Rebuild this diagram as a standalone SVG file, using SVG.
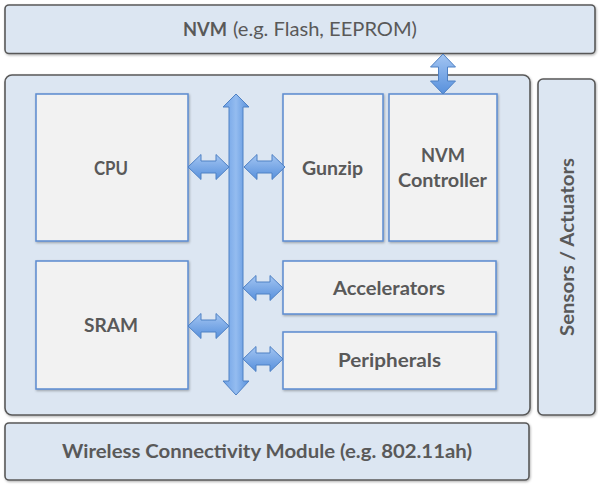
<svg xmlns="http://www.w3.org/2000/svg" width="600" height="488" viewBox="0 0 600 488">
  <defs>
    <linearGradient id="arrowGrad" x1="0" y1="0" x2="0" y2="1">
      <stop offset="0" stop-color="#a3c5f2"/>
      <stop offset="1" stop-color="#5790dc"/>
    </linearGradient>
    <linearGradient id="busGrad" x1="0" y1="0" x2="1" y2="0">
      <stop offset="0" stop-color="#6a9ee4"/>
      <stop offset="0.5" stop-color="#94bcf0"/>
      <stop offset="1" stop-color="#5790dc"/>
    </linearGradient>
    <filter id="shadow" x="-5%" y="-5%" width="110%" height="115%">
      <feDropShadow dx="0.8" dy="1.2" stdDeviation="1" flood-color="#000000" flood-opacity="0.3"/>
    </filter>
  </defs>
  <style>
    .outer { fill: #dce6f2; stroke: #595959; stroke-width: 1.6; filter: url(#shadow); }
    .inner { fill: #f2f2f2; stroke: #5b8bd0; stroke-width: 1.5; filter: url(#shadow); }
    .arrow { fill: url(#arrowGrad); stroke: #4f81c4; stroke-width: 1; stroke-linejoin: miter; }
    .bus { fill: url(#busGrad); stroke: #4f81c4; stroke-width: 1; }
    .lbl { font-family: Lato, "Open Sans", "Liberation Sans", sans-serif; font-weight: bold; font-size: 19px; fill: #595959; }
    .reg { font-weight: normal; }
  </style>

  <rect width="600" height="488" fill="#ffffff"/>

  <g id="nvm">
    <rect class="outer" x="5" y="5" width="590" height="48.5" rx="4"/>
    <text class="lbl" x="183" y="36" textLength="44" lengthAdjust="spacingAndGlyphs">NVM</text>
    <text class="lbl reg" x="233" y="36" textLength="184" lengthAdjust="spacingAndGlyphs">(e.g. Flash, EEPROM)</text>
  </g>

  <g id="soc">
    <rect class="outer" x="5" y="75" width="525" height="340" rx="7"/>
  </g>

  <g id="sensors">
    <rect class="outer" x="538" y="79" width="57" height="336" rx="5"/>
    <text class="lbl" transform="translate(574,247) rotate(-90)" x="0" y="0" text-anchor="middle" textLength="178" lengthAdjust="spacingAndGlyphs">Sensors / Actuators</text>
  </g>

  <g id="wireless">
    <rect class="outer" x="5" y="423" width="524" height="57" rx="4"/>
    <text class="lbl" x="62" y="458" textLength="410" lengthAdjust="spacingAndGlyphs">Wireless Connectivity Module (e.g. 802.11ah)</text>
  </g>

  <g id="cpu">
    <rect class="inner" x="36" y="94" width="152" height="147"/>
    <text class="lbl" x="94" y="175" textLength="34" lengthAdjust="spacingAndGlyphs">CPU</text>
  </g>

  <g id="sram">
    <rect class="inner" x="36" y="261" width="152" height="128"/>
    <text class="lbl" x="84" y="332" textLength="54" lengthAdjust="spacingAndGlyphs">SRAM</text>
  </g>

  <g id="gunzip">
    <rect class="inner" x="283" y="94" width="100" height="147"/>
    <text class="lbl" x="302" y="175" textLength="61" lengthAdjust="spacingAndGlyphs">Gunzip</text>
  </g>

  <g id="nvm-controller">
    <rect class="inner" x="389" y="94" width="108" height="147"/>
    <text class="lbl" x="421" y="162" textLength="44" lengthAdjust="spacingAndGlyphs">NVM</text>
    <text class="lbl" x="398" y="187" textLength="89" lengthAdjust="spacingAndGlyphs">Controller</text>
  </g>

  <g id="accelerators">
    <rect class="inner" x="283" y="261" width="213" height="53"/>
    <text class="lbl" x="333" y="295" textLength="112" lengthAdjust="spacingAndGlyphs">Accelerators</text>
  </g>

  <g id="peripherals">
    <rect class="inner" x="283" y="332" width="213" height="57"/>
    <text class="lbl" x="338" y="367" textLength="103" lengthAdjust="spacingAndGlyphs">Peripherals</text>
  </g>

  <g id="connectors">
    <!-- system bus -->
    <path class="bus" d="M236,94 L249,107 L243,107 L243,381 L249,381 L236,395 L223,381 L229,381 L229,107 L223,107 Z"/>
    <!-- NVM link -->
    <path class="arrow" d="M443,54 L455.5,67 L447.5,67 L447.5,81 L455.5,81 L443,94 L430.5,81 L438.5,81 L438.5,67 L430.5,67 Z"/>
    <!-- CPU <-> bus -->
    <path class="arrow" d="M188,167 L201,154.5 L201,161 L216,161 L216,154.5 L229,167 L216,179.5 L216,173 L201,173 L201,179.5 Z"/>
    <!-- bus <-> Gunzip -->
    <path class="arrow" d="M244,167 L257,154.5 L257,161 L272,161 L272,154.5 L285,167 L272,179.5 L272,173 L257,173 L257,179.5 Z"/>
    <!-- SRAM <-> bus -->
    <path class="arrow" d="M188,326 L201,313.5 L201,320 L216,320 L216,313.5 L229,326 L216,338.5 L216,332 L201,332 L201,338.5 Z"/>
    <!-- bus <-> Accelerators -->
    <path class="arrow" d="M243,288 L256,275.5 L256,282 L270,282 L270,275.5 L283,288 L270,300.5 L270,294 L256,294 L256,300.5 Z"/>
    <!-- bus <-> Peripherals -->
    <path class="arrow" d="M243,359 L256,346.5 L256,353 L270,353 L270,346.5 L283,359 L270,371.5 L270,365 L256,365 L256,371.5 Z"/>
  </g>
</svg>
